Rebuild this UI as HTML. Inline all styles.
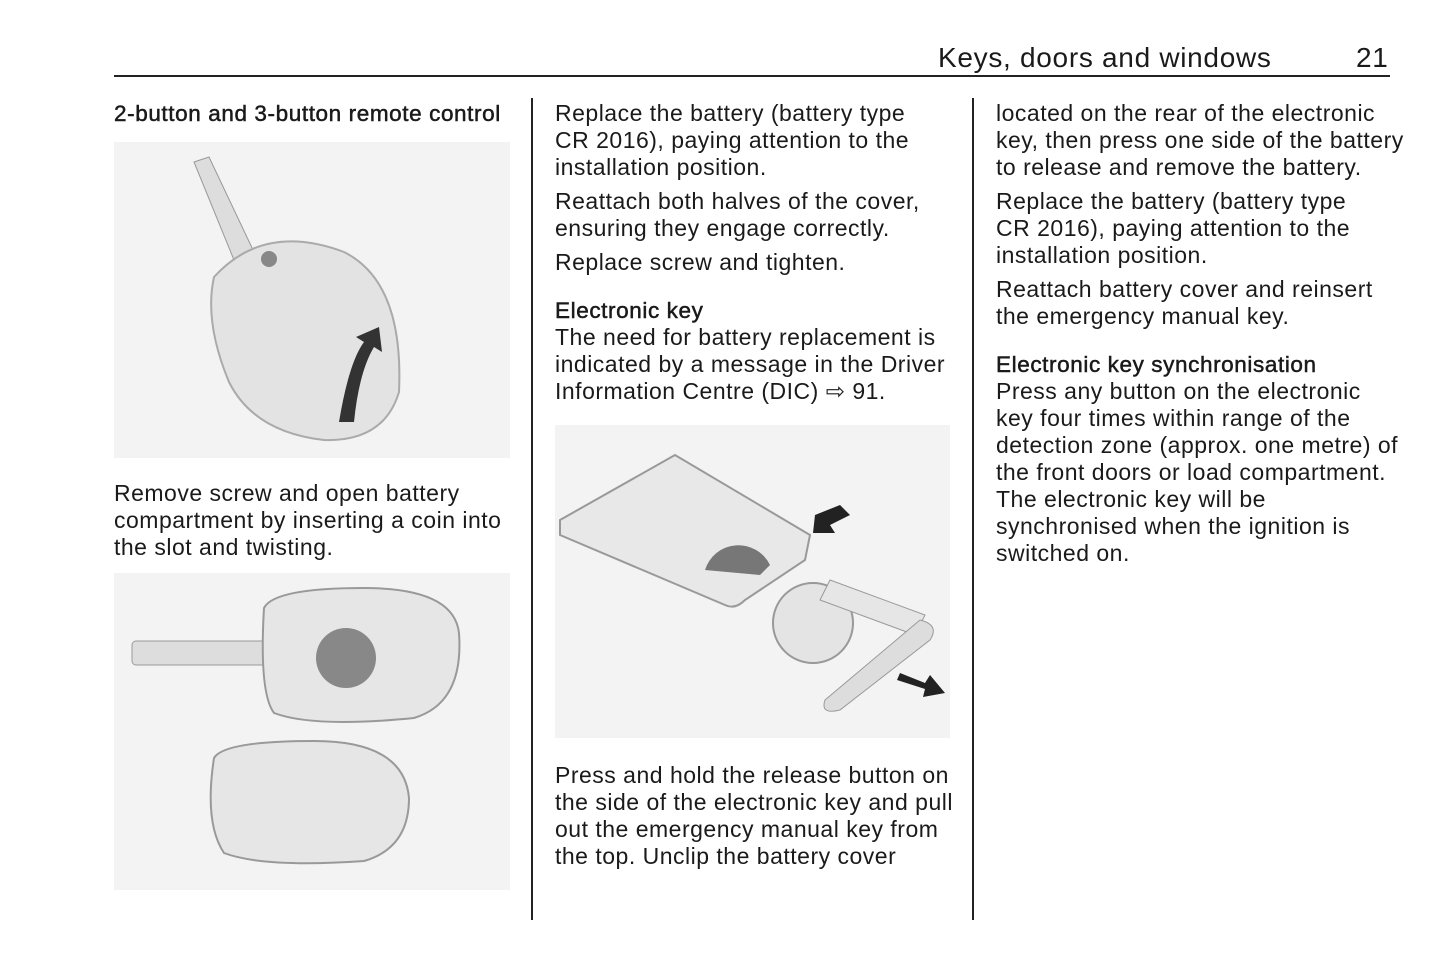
<!DOCTYPE html>
<html><head><meta charset="utf-8"><style>
body{margin:0;background:#fff;width:1445px;height:965px;position:relative;overflow:hidden;font-family:"Liberation Sans",Arial,sans-serif;color:#1a1a1a}
.a{position:absolute}
p{margin:0;font-size:23px;line-height:27px;white-space:nowrap;letter-spacing:0.5px}
.h{font-size:22.5px;line-height:27px;font-weight:normal;-webkit-text-stroke:0.5px #1a1a1a;letter-spacing:0.6px}
.col{position:absolute;width:400px}
.img{position:absolute;background:#f3f3f3}
</style></head><body>
<div class="a" style="left:938px;top:42px;font-size:28px;letter-spacing:0.7px">Keys, doors and windows</div>
<div class="a" style="left:1356px;top:42px;font-size:28px;letter-spacing:0.7px">21</div>
<div class="a" style="left:114px;top:75px;width:1276px;height:1.5px;background:#222"></div>
<div class="a" style="left:531px;top:98px;width:1.5px;height:822px;background:#222"></div>
<div class="a" style="left:972px;top:98px;width:1.5px;height:822px;background:#222"></div>

<div class="col" style="left:114px;top:100px">
<p class="h">2-button and 3-button remote control</p>
</div>
<div class="img" style="left:114px;top:142px;width:396px;height:316px">
<svg width="396" height="316">
<path d="M80 20 L95 15 L140 110 L120 118 Z" fill="#ddd" stroke="#999"/>
<path d="M100 135 Q150 80 230 110 Q290 140 285 250 Q270 300 210 298 Q140 290 115 240 Q90 180 100 135Z" fill="#e3e3e3" stroke="#aaa" stroke-width="2"/>
<circle cx="155" cy="117" r="8" fill="#888"/>
<path d="M225 280 Q235 220 250 200 L242 195 L265 185 L268 210 L260 205 Q245 230 240 280Z" fill="#333"/>
</svg></div>
<div class="col" style="left:114px;top:480px">
<p>Remove screw and open battery<br>compartment by inserting a coin into<br>the slot and twisting.</p>
</div>
<div class="img" style="left:114px;top:573px;width:396px;height:317px">
<svg width="396" height="317">
<rect x="18" y="68" width="140" height="24" rx="4" fill="#ddd" stroke="#999"/>
<path d="M150 35 Q160 15 250 15 Q340 15 345 60 Q350 130 300 145 Q200 155 160 140 Q145 120 150 35Z" fill="#e6e6e6" stroke="#999" stroke-width="2"/>
<circle cx="232" cy="85" r="30" fill="#888"/>
<path d="M100 185 Q110 168 200 168 Q290 168 295 225 Q295 275 250 288 Q150 295 110 280 Q90 250 100 185Z" fill="#e6e6e6" stroke="#999" stroke-width="2"/>
</svg></div>

<div class="col" style="left:555px;top:100px">
<p>Replace the battery (battery type<br>CR 2016), paying attention to the<br>installation position.</p>
<p style="margin-top:7px">Reattach both halves of the cover,<br>ensuring they engage correctly.</p>
<p style="margin-top:7px">Replace screw and tighten.</p>
<p class="h" style="margin-top:21px">Electronic key</p>
<p>The need for battery replacement is<br>indicated by a message in the Driver<br>Information Centre (DIC) ⇨ 91.</p>
</div>
<div class="img" style="left:555px;top:425px;width:395px;height:313px">
<svg width="395" height="313">
<path d="M5 95 L120 30 L255 110 L250 135 L190 175 Q180 185 170 180 L5 110Z" fill="#e8e8e8" stroke="#999" stroke-width="2"/>
<path d="M150 145 A35 35 0 0 1 215 140 L205 150 Z" fill="#777"/>
<circle cx="258" cy="198" r="40" fill="#e4e4e4" stroke="#999" stroke-width="2"/>
<path d="M275 155 L370 190 L360 210 L265 175Z" fill="#e6e6e6" stroke="#999"/>
<path d="M270 275 L365 195 Q385 200 375 215 L285 285 Q265 290 270 275Z" fill="#ddd" stroke="#999"/>
<path d="M260 90 L285 80 L295 90 L275 100 L280 108 L258 108Z" fill="#222"/>
<path d="M345 248 L370 258 L375 250 L390 268 L368 272 L370 264 L342 255Z" fill="#222"/>
</svg></div>
<div class="col" style="left:555px;top:762px">
<p>Press and hold the release button on<br>the side of the electronic key and pull<br>out the emergency manual key from<br>the top. Unclip the battery cover</p>
</div>

<div class="col" style="left:996px;top:100px;width:400px">
<p>located on the rear of the electronic<br>key, then press one side of the battery<br>to release and remove the battery.</p>
<p style="margin-top:7px">Replace the battery (battery type<br>CR 2016), paying attention to the<br>installation position.</p>
<p style="margin-top:7px">Reattach battery cover and reinsert<br>the emergency manual key.</p>
<p class="h" style="margin-top:21px">Electronic key synchronisation</p>
<p>Press any button on the electronic<br>key four times within range of the<br>detection zone (approx. one metre) of<br>the front doors or load compartment.<br>The electronic key will be<br>synchronised when the ignition is<br>switched on.</p>
</div>
</body></html>
